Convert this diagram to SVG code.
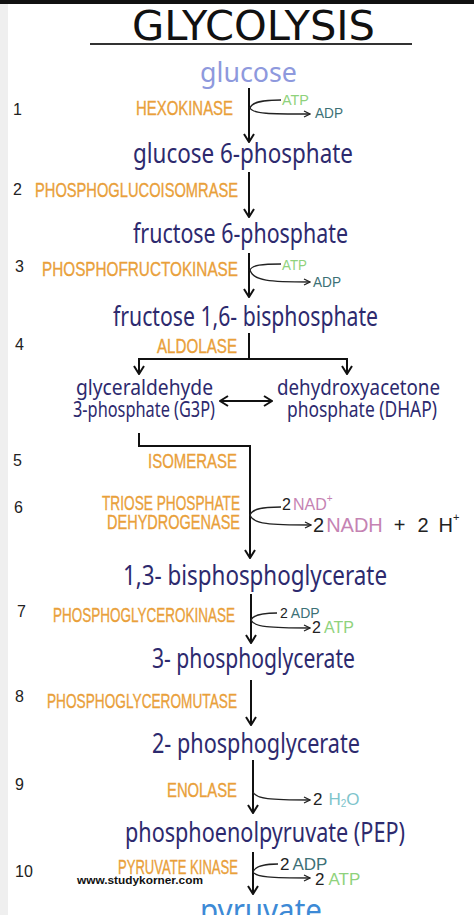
<svg xmlns="http://www.w3.org/2000/svg" width="474" height="915" viewBox="0 0 474 915">
<style>
.chem{font-family:"Noto Sans","DejaVu Sans",sans-serif;fill:#2d2a6e;}
.enz{font-family:"Liberation Sans",Arial,sans-serif;fill:#e9a03a;stroke:#e9a03a;stroke-width:0.35;font-size:20px;}
.num{font-family:"Liberation Sans",Arial,sans-serif;fill:#222;font-size:16px;}
.co{font-family:"Liberation Sans",Arial,sans-serif;fill:#222;}
.atp{fill:#8fd27c;}
.adp{fill:#3c7076;}
.nad{fill:#c583b3;}
.h2o{fill:#7fc5cc;}
.main{fill:none;stroke:#111;stroke-width:2;}
.side{fill:none;stroke:#222;stroke-width:1.3;}
</style>
<defs>
<marker id="ah" viewBox="0 0 12 12" refX="11" refY="6" markerWidth="12" markerHeight="12" markerUnits="userSpaceOnUse" orient="auto-start-reverse">
<path d="M3,1 L11,6 L3,11" fill="none" stroke="#111" stroke-width="2"/>
</marker>
<marker id="sh" viewBox="0 0 8 8" refX="7.5" refY="4" markerWidth="8" markerHeight="8" markerUnits="userSpaceOnUse" orient="auto">
<path d="M1.5,1 L7.5,4 L1.5,7" fill="none" stroke="#222" stroke-width="1.3"/>
</marker>
</defs>
<rect x="0" y="0" width="474" height="915" fill="#ffffff"/>
<rect x="0" y="0" width="8" height="915" fill="#efefef"/>
<rect x="0" y="0" width="474" height="4" fill="#111"/>

<g id="title">
<text x="132" y="40" textLength="243" lengthAdjust="spacingAndGlyphs" style="font-family:'DejaVu Sans',sans-serif;font-size:41px;fill:#111;">GLYCOLYSIS</text>
<line x1="90" y1="44" x2="412" y2="44" stroke="#333" stroke-width="2"/>
</g>

<g id="glucose"><text class="chem" x="200" y="82" font-size="28" textLength="97" lengthAdjust="spacingAndGlyphs" style="fill:#8e99dd">glucose</text></g>
<g id="g6p"><text class="chem" x="133" y="163" font-size="27" textLength="220" lengthAdjust="spacingAndGlyphs">glucose 6-phosphate</text></g>
<g id="f6p"><text class="chem" x="133" y="243" font-size="27" textLength="215" lengthAdjust="spacingAndGlyphs">fructose 6-phosphate</text></g>
<g id="f16bp"><text class="chem" x="113" y="326" font-size="27" textLength="265" lengthAdjust="spacingAndGlyphs">fructose 1,6- bisphosphate</text></g>
<g id="g3p">
<text class="chem" x="76" y="395" font-size="21" textLength="137" lengthAdjust="spacingAndGlyphs">glyceraldehyde</text>
<text class="chem" x="73" y="417" font-size="21" textLength="142" lengthAdjust="spacingAndGlyphs">3-phosphate (G3P)</text>
</g>
<g id="dhap">
<text class="chem" x="277" y="395" font-size="21" textLength="163" lengthAdjust="spacingAndGlyphs">dehydroxyacetone</text>
<text class="chem" x="287" y="417" font-size="21" textLength="150" lengthAdjust="spacingAndGlyphs">phosphate (DHAP)</text>
</g>
<g id="bpg13"><text class="chem" x="123" y="585" font-size="28" textLength="264" lengthAdjust="spacingAndGlyphs">1,3- bisphosphoglycerate</text></g>
<g id="pg3"><text class="chem" x="152" y="668" font-size="28" textLength="203" lengthAdjust="spacingAndGlyphs">3- phosphoglycerate</text></g>
<g id="pg2"><text class="chem" x="152" y="753" font-size="28" textLength="208" lengthAdjust="spacingAndGlyphs">2- phosphoglycerate</text></g>
<g id="pep"><text class="chem" x="125" y="842" font-size="27" textLength="280" lengthAdjust="spacingAndGlyphs">phosphoenolpyruvate (PEP)</text></g>
<g id="pyruvate"><text class="chem" x="200" y="922" font-size="32" textLength="122" lengthAdjust="spacingAndGlyphs" style="fill:#3d8ad6">pyruvate</text></g>

<g id="step1">
<text class="num" x="13" y="115">1</text>
<text class="enz" x="136" y="115" textLength="97" lengthAdjust="spacingAndGlyphs">HEXOKINASE</text>
<text class="co atp" x="282" y="105" font-size="14" textLength="27" lengthAdjust="spacingAndGlyphs">ATP</text>
<text class="co adp" x="315" y="118" font-size="14" textLength="28" lengthAdjust="spacingAndGlyphs">ADP</text>
</g>
<g id="step2">
<text class="num" x="13" y="195">2</text>
<text class="enz" x="35" y="197" textLength="203" lengthAdjust="spacingAndGlyphs">PHOSPHOGLUCOISOMRASE</text>
</g>
<g id="step3">
<text class="num" x="15" y="272">3</text>
<text class="enz" x="42" y="276" textLength="196" lengthAdjust="spacingAndGlyphs">PHOSPHOFRUCTOKINASE</text>
<text class="co atp" x="282" y="270" font-size="14" textLength="25" lengthAdjust="spacingAndGlyphs">ATP</text>
<text class="co adp" x="313" y="287" font-size="14" textLength="28" lengthAdjust="spacingAndGlyphs">ADP</text>
</g>
<g id="step4">
<text class="num" x="15" y="350">4</text>
<text class="enz" x="157" y="353" textLength="80" lengthAdjust="spacingAndGlyphs">ALDOLASE</text>
</g>
<g id="step5">
<text class="num" x="13" y="466">5</text>
<text class="enz" x="148" y="468" textLength="89" lengthAdjust="spacingAndGlyphs">ISOMERASE</text>
</g>
<g id="step6">
<text class="num" x="14" y="513">6</text>
<text class="enz" x="102" y="510" textLength="138" lengthAdjust="spacingAndGlyphs">TRIOSE PHOSPHATE</text>
<text class="enz" x="107" y="529" textLength="133" lengthAdjust="spacingAndGlyphs">DEHYDROGENASE</text>
<text class="co" x="282" y="510" font-size="16">2<tspan class="nad" dx="2">NAD</tspan><tspan class="nad" font-size="10" dy="-8">+</tspan></text>
<text class="co" x="313" y="532" font-size="20">2<tspan class="nad" dx="2">NADH</tspan><tspan dx="11">+</tspan><tspan dx="12">2</tspan><tspan dx="10">H</tspan><tspan font-size="11" dy="-11">+</tspan></text>
</g>
<g id="step7">
<text class="num" x="17" y="617">7</text>
<text class="enz" x="53" y="622" textLength="182" lengthAdjust="spacingAndGlyphs">PHOSPHOGLYCEROKINASE</text>
<text class="co" x="280" y="618" font-size="14">2<tspan class="adp" dx="3">ADP</tspan></text>
<text class="co" x="312" y="633" font-size="16">2<tspan class="atp" dx="3">ATP</tspan></text>
</g>
<g id="step8">
<text class="num" x="15" y="702">8</text>
<text class="enz" x="47" y="708" textLength="190" lengthAdjust="spacingAndGlyphs">PHOSPHOGLYCEROMUTASE</text>
</g>
<g id="step9">
<text class="num" x="15" y="790">9</text>
<text class="enz" x="167" y="797" textLength="70" lengthAdjust="spacingAndGlyphs">ENOLASE</text>
<text class="co" x="313" y="805" font-size="17">2<tspan class="h2o" dx="6">H</tspan><tspan class="h2o" font-size="10" dy="2">2</tspan><tspan class="h2o" dy="-2">O</tspan></text>
</g>
<g id="step10">
<text class="num" x="15" y="877">10</text>
<text class="enz" x="118" y="874" textLength="120" lengthAdjust="spacingAndGlyphs">PYRUVATE KINASE</text>
<text class="co" x="280" y="870" font-size="17">2<tspan class="adp" dx="3">ADP</tspan></text>
<text class="co" x="315" y="885" font-size="17">2<tspan class="atp" dx="4">ATP</tspan></text>
</g>
<g id="watermark">
<text x="77" y="884" textLength="126" lengthAdjust="spacingAndGlyphs" style="font-family:'Liberation Sans',Arial,sans-serif;font-weight:bold;font-size:11px;fill:#111;">www.studykorner.com</text>
</g>

<g id="connectors">
<path class="main" d="M249,88 V142" marker-end="url(#ah)"/>
<path class="side" d="M250,108 C252,102 262,100 281,100"/>
<path class="side" d="M250,108 C253,114 270,114 310,114" marker-end="url(#sh)"/>
<path class="main" d="M249,172 V217" marker-end="url(#ah)"/>
<path class="main" d="M249,253 V297" marker-end="url(#ah)"/>
<path class="side" d="M250,270 C252,265 262,264 281,264"/>
<path class="side" d="M250,270 C253,281 270,282 310,282" marker-end="url(#sh)"/>
<path class="main" d="M249,333 V359"/>
<path class="main" d="M139,359 H347"/>
<path class="main" d="M139,358 V374" marker-end="url(#ah)"/>
<path class="main" d="M347,358 V374" marker-end="url(#ah)"/>
<path class="main" d="M220,401 H272" marker-start="url(#ah)" marker-end="url(#ah)"/>
<path class="main" d="M139,433 V446 H250 V558" marker-end="url(#ah)"/>
<path class="side" d="M250,515 C252,509 262,507 281,507"/>
<path class="side" d="M250,515 C253,524 270,525 311,525" marker-end="url(#sh)"/>
<path class="main" d="M251,594 V643" marker-end="url(#ah)"/>
<path class="side" d="M251,620 C253,615 262,613 277,613"/>
<path class="side" d="M251,620 C254,627 270,628 310,628" marker-end="url(#sh)"/>
<path class="main" d="M251,680 V725" marker-end="url(#ah)"/>
<path class="main" d="M253,760 V813" marker-end="url(#ah)"/>
<path class="side" d="M253,792 C256,799 270,800 310,800" marker-end="url(#sh)"/>
<path class="main" d="M253,852 V894" marker-end="url(#ah)"/>
<path class="side" d="M253,872 C255,866 264,864 278,864"/>
<path class="side" d="M253,872 C256,877 270,878 310,878" marker-end="url(#sh)"/>
</g>
</svg>
